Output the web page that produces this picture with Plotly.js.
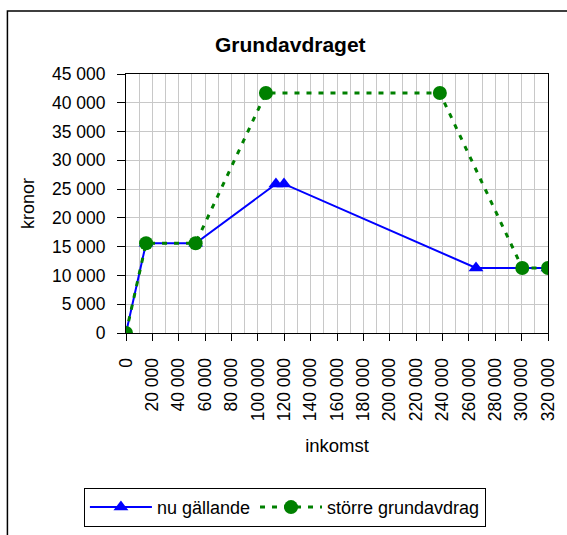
<!DOCTYPE html>
<html><head><meta charset="utf-8">
<script src="https://cdn.plot.ly/plotly-3.0.1.min.js"></script>
<style>html,body{margin:0;padding:0;background:#fff;}#chart{width:567px;height:535px;}</style>
</head><body><div id="chart"></div>
<script>
const seriesNames = ["nu gällande", "större grundavdrag"];
const nuX = [0, 15200, 52800, 113700, 119800, 265400, 320000];
const nuY = [0, 15600, 15600, 25900, 25900, 11300, 11300];
const storreX = [0, 15200, 52800, 106100, 238000, 300500, 320000];
const storreY = [0, 15600, 15600, 41700, 41700, 11300, 11300];
const xTicks = [0,20000,40000,60000,80000,100000,120000,140000,160000,180000,200000,220000,240000,260000,280000,300000,320000];
const yTicks = [0,5000,10000,15000,20000,25000,30000,35000,40000,45000];

const font = "'Liberation Sans', Arial, sans-serif";
const traces = [
  {x: nuX, y: nuY, name: seriesNames[0], type: 'scatter', mode: 'lines+markers',
   line: {color: '#0000ff', width: 2}, marker: {symbol: 'triangle-up', size: 13, color: '#0000ff'}},
  {x: storreX, y: storreY, name: seriesNames[1], type: 'scatter', mode: 'lines+markers',
   line: {color: '#008000', width: 3, dash: '5px,7px'}, marker: {symbol: 'circle', size: 14, color: '#008000'}}
];
const layout = {
  width: 567, height: 535,
  margin: {l: 126, r: 19, t: 74, b: 202},
  paper_bgcolor: '#fff', plot_bgcolor: '#fff',
  separators: ', ',
  font: {family: font, size: 18, color: '#000'},
  title: {text: '<b>Grundavdraget</b>', x: 0.512, xanchor: 'center', y: 0.917, yanchor: 'middle', font: {family: font, size: 21, color: '#000'}},
  xaxis: {range: [0, 320000], tickvals: xTicks, tickformat: ',d', tickangle: -90, automargin: false,
    showline: true, linecolor: '#000', linewidth: 1, mirror: true,
    ticks: 'outside', ticklen: 7, tickcolor: '#000', ticklabelstandoff: 10,
    showgrid: true, gridcolor: '#c8c8c8', gridwidth: 1,
    minor: {dtick: 10000, tick0: 0, showgrid: true, gridcolor: '#c8c8c8', gridwidth: 1},
    zeroline: false, tickfont: {family: font, size: 17.5},
    title: {text: 'inkomst', standoff: 18, font: {family: font, size: 18.5}}},
  yaxis: {range: [0, 45000], tickvals: yTicks, tickformat: ',d', automargin: false,
    showline: true, linecolor: '#000', linewidth: 1, mirror: true,
    ticks: 'outside', ticklen: 8, tickcolor: '#000', ticklabelstandoff: 8,
    showgrid: true, gridcolor: '#c8c8c8', gridwidth: 1,
    zeroline: false, tickfont: {family: font, size: 17.5},
    title: {text: 'kronor', standoff: 12, font: {family: font, size: 18}}},
  showlegend: true,
  legend: {orientation: 'h', xref: 'container', yref: 'container', x: 0.148, xanchor: 'left', y: 0.088, yanchor: 'top',
    bordercolor: '#000', borderwidth: 1, bgcolor: '#fff', itemwidth: 62,
    font: {family: font, size: 18}},
  shapes: [{type: 'rect', xref: 'paper', yref: 'paper', x0: -0.281, x1: 1.3, y0: -1.2, y1: 1.243,
    line: {color: '#000', width: 1.5}, fillcolor: 'rgba(0,0,0,0)', layer: 'below'}]
};
Plotly.newPlot('chart', traces, layout, {staticPlot: true, displayModeBar: false});
</script></body></html>
